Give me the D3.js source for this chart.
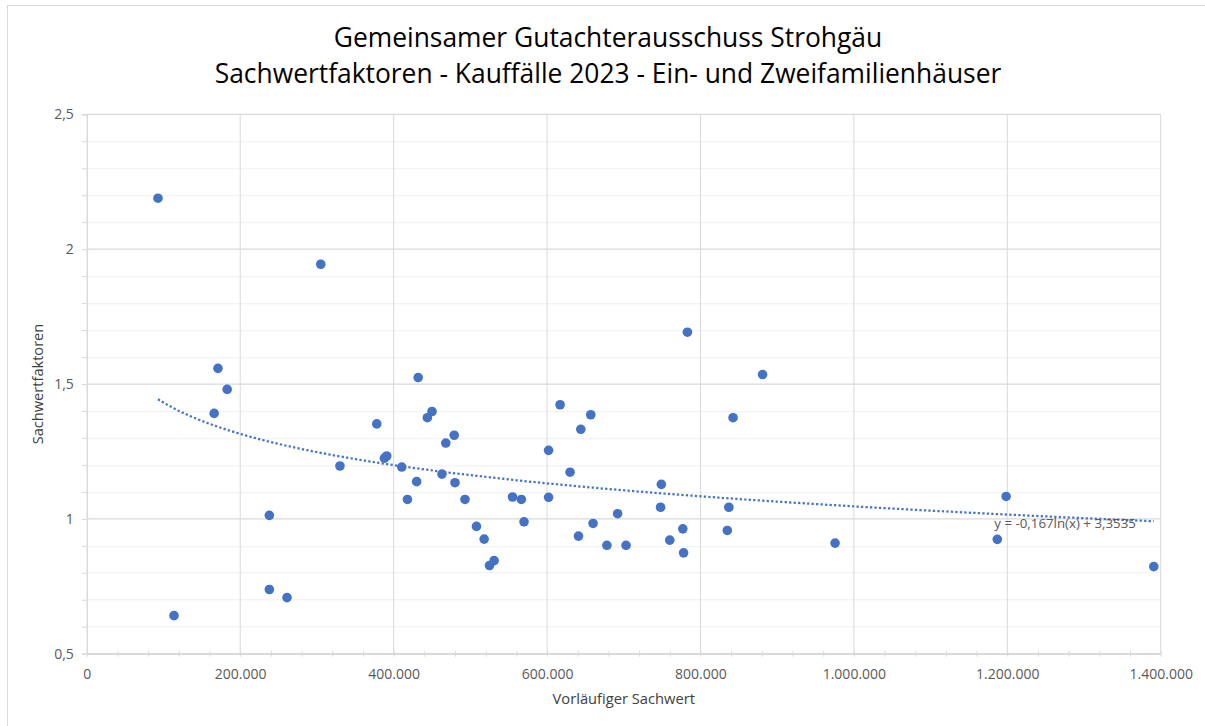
<!DOCTYPE html>
<html>
<head>
<meta charset="utf-8">
<script src="https://cdn.jsdelivr.net/npm/d3@7"></script>
<style>
  body { margin: 0; background: #fff; }
  text { font-family: "Open Sans", Lato, sans-serif; }
</style>
</head>
<body>
<script>
var svgWidth = 1205;
var svgHeight = 726;
var margin = {top: 114.3, right: 44.3, bottom: 72.3, left: 86.8};
var width = svgWidth - margin.left - margin.right;
var height = svgHeight - margin.top - margin.bottom;

// Vorläufiger Sachwert (x) and Sachwertfaktor (y)
var sachwert = [92800, 113700, 305000, 171000, 183000, 166000, 238000, 238000, 261000, 330000,
  378000, 388000, 391000, 410600, 418000, 430000, 432000, 444000, 450000, 463000,
  468000, 479000, 480000, 493000, 508000, 518000, 525000, 531000, 555000, 566500,
  570000, 602000, 602000, 617000, 630000, 644000, 657000, 641000, 660000, 678000,
  692000, 703000, 748000, 749000, 760000, 777000, 778000, 783000, 835000, 837000,
  842500, 881000, 975500, 1187000, 1198500, 1391000];
var faktor = [2.189, 0.641, 1.944, 1.558, 1.480, 1.391, 1.013, 0.738, 0.708, 1.196,
  1.352, 1.225, 1.233, 1.192, 1.072, 1.138, 1.524, 1.375, 1.398, 1.166,
  1.281, 1.310, 1.134, 1.072, 0.972, 0.925, 0.827, 0.845, 1.081, 1.072,
  0.989, 1.254, 1.080, 1.423, 1.173, 1.332, 1.386, 0.936, 0.983, 0.902,
  1.019, 0.902, 1.043, 1.128, 0.921, 0.963, 0.874, 1.692, 0.957, 1.043,
  1.375, 1.535, 0.910, 0.924, 1.083, 0.823];

var xTicks = [0, 200000, 400000, 600000, 800000, 1000000, 1200000, 1400000];
var yTicks = [0.5, 1, 1.5, 2, 2.5];

// logarithmic trendline as printed on the chart
var trendA = -0.167;
var trendB = 3.3535;
var trendLabel = "y = -0,167ln(x) + 3,3535";

var titleLines = ["Gemeinsamer Gutachterausschuss Strohgäu",
  "Sachwertfaktoren - Kauffälle 2023 - Ein- und Zweifamilienhäuser"];

var de = d3.formatLocale({decimal: ",", thousands: ".", grouping: [3], currency: ["", " €"]});

var svg = d3.select("body").append("svg").attr("width", svgWidth).attr("height", svgHeight);

// chart area border (only top and left edges are visible)
svg.append("rect").attr("x", 7.5).attr("y", 5.5).attr("width", 1300).attr("height", 900)
  .attr("fill", "none").attr("stroke", "#d9d9d9").attr("stroke-width", 1);

var chart = svg.append("g").attr("transform", `translate(${margin.left}, ${margin.top})`);

var x = d3.scaleLinear().domain([0, 1400000]).range([0, width]);
var y = d3.scaleLinear().domain([0.5, 2.5]).range([height, 0]);

// minor horizontal gridlines
var yMinor = d3.range(5, 26).map(d => d / 10).filter(d => Math.abs(d * 2 - Math.round(d * 2)) > 1e-6);
chart.append("g").selectAll("line").data(yMinor).enter().append("line")
  .attr("x1", 0).attr("x2", width)
  .attr("y1", d => Math.round(y(d)) + 0.5).attr("y2", d => Math.round(y(d)) + 0.5)
  .attr("stroke", "#f0f0f0").attr("stroke-width", 1);

// major gridlines
chart.append("g").selectAll("line").data(yTicks).enter().append("line")
  .attr("x1", 0).attr("x2", width)
  .attr("y1", d => y(d)).attr("y2", d => y(d))
  .attr("stroke", "#d9d9d9").attr("stroke-width", 1.25);
chart.append("g").selectAll("line").data(xTicks.slice(1)).enter().append("line")
  .attr("x1", d => x(d)).attr("x2", d => x(d))
  .attr("y1", 0).attr("y2", height)
  .attr("stroke", "#d9d9d9").attr("stroke-width", 1);

// y axis with minor ticks
var yAxis = d3.axisLeft(y).tickValues(d3.range(5, 26).map(d => d / 10)).tickSize(5)
  .tickFormat(d => yTicks.some(t => Math.abs(t - d) < 1e-6) ? de.format(".1~f")(d) : "");
var gy = chart.append("g").call(yAxis);
gy.select(".domain").attr("stroke", "#d9d9d9").attr("stroke-width", 1.5);
gy.selectAll(".tick line").attr("stroke", "#d9d9d9");
gy.selectAll(".tick text").attr("fill", "#595959").attr("font-size", "14px").attr("x", -13);

// x axis with minor ticks crossing the line
var xAxis = d3.axisBottom(x).tickValues(d3.range(0, 1400001, 40000)).tickSize(0)
  .tickFormat(d => xTicks.includes(d) ? de.format(",.0f")(d) : "");
var gx = chart.append("g").attr("transform", `translate(0, ${height})`).call(xAxis);
gx.select(".domain").attr("stroke", "#d9d9d9").attr("stroke-width", 1.5);
gx.selectAll(".tick line").attr("stroke", "#d9d9d9").attr("y1", -3).attr("y2", 3);
gx.selectAll(".tick text").attr("fill", "#595959").attr("font-size", "14px").attr("dy", "0").attr("y", 25);

// trendline
var xMin = d3.min(sachwert), xMax = d3.max(sachwert);
var trendX = d3.range(0, 101).map(i => xMin + (xMax - xMin) * i / 100);
var line = d3.line().x(d => x(d)).y(d => y(trendA * Math.log(d) + trendB));
chart.append("path").datum(trendX).attr("d", line)
  .attr("fill", "none").attr("stroke", "#4472C4").attr("stroke-width", 2.25)
  .attr("stroke-dasharray", "2.25,2.25");

// points
chart.selectAll("circle").data(sachwert).enter().append("circle")
  .attr("cx", d => x(d)).attr("cy", (d, i) => y(faktor[i]))
  .attr("r", 4.8).attr("fill", "#4472C4");

// trendline label
chart.append("text").attr("x", x(1187000) - 3).attr("y", y(0.985) + 5)
  .attr("fill", "#595959").attr("font-size", "13.3px").text(trendLabel);

// axis titles
chart.append("text").attr("transform", `translate(${width / 2}, ${height + 50})`)
  .attr("text-anchor", "middle").attr("fill", "#404040").attr("font-size", "14.7px")
  .text("Vorläufiger Sachwert");
chart.append("text").attr("transform", `translate(${-margin.left + 43}, ${height / 2}) rotate(-90)`)
  .attr("text-anchor", "middle").attr("fill", "#404040").attr("font-size", "14.6px")
  .text("Sachwertfaktoren");

// title
svg.append("g").selectAll("text").data(titleLines).enter().append("text")
  .attr("x", 608).attr("y", (d, i) => 47 + i * 36)
  .attr("text-anchor", "middle").attr("fill", "#000").attr("font-size", "26.4px")
  .text(d => d);
</script>
</body>
</html>
